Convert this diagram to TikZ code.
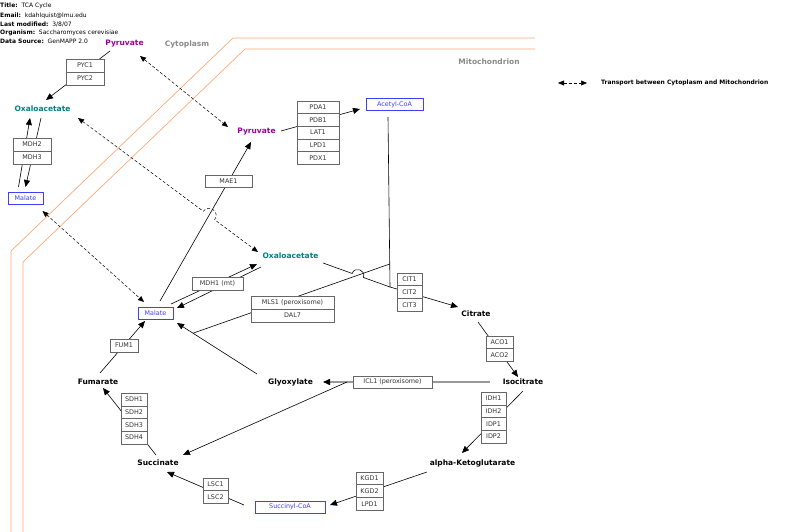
\documentclass[tikz,border=0pt]{standalone}
\usepackage{fontspec}
\setmainfont{DejaVu Sans}
\usepackage{tikz}
\usetikzlibrary{arrows.meta,calc}
\definecolor{pyrcol}{HTML}{990099}
\definecolor{oxacol}{HTML}{008080}
\definecolor{boxblue}{HTML}{3F3FFF}
\definecolor{membrane}{HTML}{FFA878}
\definecolor{compgray}{HTML}{8A8A8A}
\definecolor{genegray}{HTML}{666666}

\begin{document}
\begin{tikzpicture}[x=1pt, y=-1pt,
  metab/.style={inner sep=1pt, font=\fontsize{7.5}{8}\selectfont\bfseries},
  boxmetab/.style={draw=boxblue, text=boxblue, fill=white, inner sep=0pt, minimum height=12, font=\fontsize{6.4}{7}\selectfont},
  gene/.style={draw=genegray, fill=white, inner sep=0pt, minimum height=12.7, text=black!80, font=\fontsize{6.4}{7}\selectfont},
  rxn/.style={-{Triangle[length=7pt,width=6pt]}, line width=0.6pt},
  plain/.style={line width=0.6pt},
  icl/.style={-{Triangle[length=7pt,width=6pt,color=black]}, draw=black!40, line width=1.5pt},
  transport/.style={{Triangle[length=6pt,width=5pt]}-{Triangle[length=6pt,width=5pt]}, dash pattern=on 3pt off 2pt, line width=0.5pt},
  memline/.style={draw=membrane, line width=0.7pt},
  compname/.style={text=compgray, font=\fontsize{7.5}{8}\selectfont\bfseries},
  header/.style={anchor=west, inner sep=0pt, font=\fontsize{6}{7}\selectfont}
]
\useasboundingbox (0,0) rectangle (800,532);

% header
\node[header] (title) at (0,6) {\textbf{Title:}\ \ TCA Cycle};
\node[header] (email) at (0,15.5) {\textbf{Email:}\ \ kdahlquist@lmu.edu};
\node[header] (modified) at (0,24.5) {\textbf{Last modified:}\ \ 3/8/07};
\node[header] (organism) at (0,33) {\textbf{Organism:}\ \ Saccharomyces cerevisiae};
\node[header] (source) at (0,41.5) {\textbf{Data Source:}\ \ GenMAPP 2.0};

% membranes
\draw[memline] (11,532) -- (11,251) -- (233,38) -- (535,38);
\draw[memline] (23,532) -- (23,262) -- (245,49) -- (535,49);
\node[compname] (cytolabel) at (187,44) {Cytoplasm};
\node[compname] (mitolabel) at (489,62) {Mitochondrion};

% metabolites
\node[metab, text=pyrcol] (pyrc) at (124.5,44) {Pyruvate};
\node[metab, text=oxacol] (oxc) at (42.5,109) {Oxaloacetate};
\node[boxmetab, minimum width=35] (malc) at (25.5,198) {Malate};
\node[metab, text=pyrcol] (pyrm) at (256.5,132) {Pyruvate};
\node[boxmetab, minimum width=57] (acoa) at (394.5,104.5) {Acetyl-CoA};
\node[metab, text=oxacol] (oxm) at (290.5,256) {Oxaloacetate};
\node[boxmetab, minimum width=35] (malm) at (155.5,313.5) {Malate};
\node[metab] (cit) at (476,314) {Citrate};
\node[metab] (icit) at (523,382) {Isocitrate};
\node[metab] (glx) at (290.5,382) {Glyoxylate};
\node[metab] (akg) at (472.5,463) {alpha-Ketoglutarate};
\node[boxmetab, minimum width=70] (sucoa) at (290,507) {Succinyl-CoA};
\node[metab] (suc) at (158,463) {Succinate};
\node[metab] (fum) at (98,382) {Fumarate};

\coordinate (citjoin) at (390,287);
\coordinate (mlsjoin) at (389.7,264);
\coordinate (glxjoin) at (193,333.2);
\coordinate (icljoin) at (347,382);

% transport
\draw[transport] ([shift={(15.5,12)}]pyrc.center) -- ([shift={(-28.5,-5)}]pyrm.center);
\path ([shift={(35.5,9)}]oxc.center) -- coordinate[pos=0.696] (oxbr1) coordinate[pos=0.759] (oxbr2) ([shift={(-32.5,-4)}]oxm.center);
\draw[transport] ([shift={(35.5,9)}]oxc.center) -- (oxbr1)
  .. controls ($(oxbr1)!0.67!90:(oxbr2)$) and ($(oxbr2)!0.67!-90:(oxbr1)$) .. (oxbr2)
  -- ([shift={(-32.5,-4)}]oxm.center);
\draw[transport] ([shift={(17,13)}]malc.center) -- ([shift={(-11.5,-11.5)}]malm.center);

% cytoplasm reactions
\draw[rxn] ([shift={(-14.5,7)}]pyrc.center) -- ([shift={(3.5,-9)}]oxc.center);
\draw[rxn] ([shift={(-7,-11)}]malc.center) -- ([shift={(-12.5,9)}]oxc.center);
\draw[rxn] ([shift={(-1.5,9)}]oxc.center) -- ([shift={(0,-11)}]malc.center);

% mitochondrion reactions
\draw[rxn] ([shift={(4.5,-12.5)}]malm.center) -- ([shift={(-5.5,10)}]pyrm.center);
\draw[rxn] ([shift={(15.5,-9.5)}]malm.center) -- ([shift={(-33.5,8)}]oxm.center);
\draw[rxn] ([shift={(-29.5,11)}]oxm.center) -- ([shift={(21.5,-5.5)}]malm.center);
\draw[rxn] ([shift={(24.5,-1)}]pyrm.center) -- ([shift={(-34.5,4.5)}]acoa.center);
\draw[plain] ([shift={(-6.5,12.5)}]acoa.center) -- (citjoin);
\path ([shift={(32.5,7)}]oxm.center) -- coordinate[pos=0.435] (citbr1) coordinate[pos=0.603] (citbr2) (citjoin);
\draw[plain] ([shift={(32.5,7)}]oxm.center) -- (citbr1)
  .. controls ($(citbr1)!0.67!90:(citbr2)$) and ($(citbr2)!0.67!-90:(citbr1)$) .. (citbr2)
  -- (citjoin);
\draw[rxn] (citjoin) -- ([shift={(-18,-7)}]cit.center);
\draw[plain] (mlsjoin) -- (glxjoin);
\draw[rxn] ([shift={(-33.5,-8)}]glx.center) -- ([shift={(21.5,9.5)}]malm.center);
\draw[rxn] ([shift={(2,8)}]cit.center) -- ([shift={(-5,-5)}]icit.center);
\draw[icl] ([shift={(-33,0)}]icit.center) -- ([shift={(32.5,0)}]glx.center);
\draw[rxn] (icljoin) -- ([shift={(25,-8)}]suc.center);
\draw[rxn] ([shift={(0,9)}]icit.center) -- ([shift={(-10.5,-10)}]akg.center);
\draw[rxn] ([shift={(-45.5,9)}]akg.center) -- ([shift={(40,-2)}]sucoa.center);
\draw[rxn] ([shift={(-46,-2)}]sucoa.center) -- ([shift={(9,9)}]suc.center);
\draw[rxn] ([shift={(-2,-8)}]suc.center) -- ([shift={(5,6)}]fum.center);
\draw[rxn] ([shift={(2,-9)}]fum.center) -- ([shift={(-10.5,7.5)}]malm.center);

% enzymes
\node[gene, minimum width=38] (pyc1) at (85,65.5) {PYC1};
\node[gene, minimum width=38] (pyc2) at (85,78.5) {PYC2};
\node[gene, minimum width=38] (mdh2) at (32,144.5) {MDH2};
\node[gene, minimum width=38] (mdh3) at (32,157.5) {MDH3};
\node[gene, minimum width=42] (pda1) at (318,107.3) {PDA1};
\node[gene, minimum width=42] (pdb1) at (318,119.9) {PDB1};
\node[gene, minimum width=42] (lat1) at (318,132.5) {LAT1};
\node[gene, minimum width=42] (lpd1a) at (318,145.1) {LPD1};
\node[gene, minimum width=42] (pdx1) at (318,157.7) {PDX1};
\node[gene, minimum width=47, minimum height=12] (mae1) at (228.5,181.5) {MAE1};
\node[gene, minimum width=51] (mdh1) at (217.5,283.5) {MDH1 (mt)};
\node[gene, minimum width=83] (mls1) at (292.5,302.5) {MLS1 (peroxisome)};
\node[gene, minimum width=83] (dal7) at (292.5,315.5) {DAL7};
\node[gene, minimum width=25] (cit1) at (409.5,279.4) {CIT1};
\node[gene, minimum width=25] (cit2) at (409.5,292) {CIT2};
\node[gene, minimum width=25] (cit3) at (409.5,304.7) {CIT3};
\node[gene, minimum width=27] (aco1) at (499.5,342.2) {ACO1};
\node[gene, minimum width=27] (aco2) at (499.5,354.8) {ACO2};
\node[gene, minimum width=79, minimum height=12] (icl1) at (392.5,382) {ICL1 (peroxisome)};
\node[gene, minimum width=28] (fum1) at (124,345.5) {FUM1};
\node[gene, minimum width=26] (sdh1) at (134,399.4) {SDH1};
\node[gene, minimum width=26] (sdh2) at (134,412.1) {SDH2};
\node[gene, minimum width=26] (sdh3) at (134,424.9) {SDH3};
\node[gene, minimum width=26] (sdh4) at (134,437.6) {SDH4};
\node[gene, minimum width=25] (idh1) at (493.5,398.4) {IDH1};
\node[gene, minimum width=25] (idh2) at (493.5,411.1) {IDH2};
\node[gene, minimum width=25] (idp1) at (493.5,423.9) {IDP1};
\node[gene, minimum width=25] (idp2) at (493.5,436.6) {IDP2};
\node[gene, minimum width=27] (kgd1) at (369.5,478.3) {KGD1};
\node[gene, minimum width=27] (kgd2) at (369.5,491) {KGD2};
\node[gene, minimum width=27] (lpd1b) at (369.5,503.7) {LPD1};
\node[gene, minimum width=25] (lsc1) at (215.5,484.3) {LSC1};
\node[gene, minimum width=25] (lsc2) at (215.5,496.8) {LSC2};

% legend
\coordinate (legleft) at (558,83);
\coordinate (legright) at (587,83);
\draw[transport] (legleft) -- (legright);
\node[anchor=west, inner sep=0pt, font=\fontsize{6}{7}\selectfont\bfseries] (legtext) at (601,83) {Transport between Cytoplasm and Mitochondrion};
\end{tikzpicture}
\end{document}
